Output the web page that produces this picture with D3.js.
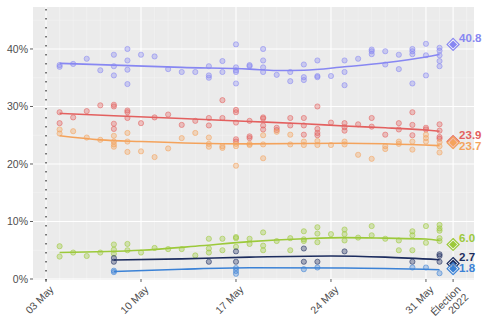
<!DOCTYPE html>
<html><head><meta charset="utf-8">
<script src="https://cdn.jsdelivr.net/npm/d3@7"></script>
<style>body{margin:0;background:#fff}svg{display:block}text{font-family:"Liberation Sans",Arial,sans-serif}</style>
</head><body><svg id="c" width="500" height="334"></svg>
<script>
// Days are counted from 03 May 2022 (day 0). Election: 2 June (day 30).
const parties = ["PC","Liberal","NDP","Green","New Blue","Ontario Party"];
const colors = ["#8787f2","#e3605f","#f4a35c","#9cc93a","#1c2c5e","#3b82d6"];
const tickDays = [0,7,14,21,28,30];
const tickLabels = ["03 May","10 May","17 May","24 May","31 May","Élection\n2022"];
const yTicks = [0,10,20,30,40];
const electionDay = 30;
const results = [40.8,23.9,23.7,6.0,2.7,1.8];

const pcPolls = [[1,36.9],[1,37.2],[2,37.4],[3,38.3],[4,36.3],[5,39.0],[5,37.0],[5,35.4],[6,40.0],[6,38.0],[6,36.4],[6,33.9],[7,39.0],[8,38.7],[9,36.5],[10,36.0],[11,36.0],[12,37.0],[12,35.4],[12,35.0],[13,37.9],[13,36.0],[14,40.8],[14,36.8],[14,36.3],[14,36.0],[14,34.0],[15,37.2],[15,37.0],[16,40.0],[16,38.0],[16,36.8],[16,36.0],[17,35.5],[18,36.0],[18,34.4],[19,37.3],[19,35.1],[19,34.6],[20,38.0],[20,35.3],[20,35.1],[21,35.3],[22,38.0],[22,36.0],[22,33.7],[23,38.3],[24,39.9],[24,39.6],[24,39.1],[25,39.6],[25,37.3],[26,39.0],[26,36.5],[27,40.0],[27,39.6],[27,39.1],[27,34.0],[28,40.9],[28,38.9],[28,35.4],[29,40.2],[29,39.7],[29,38.9],[29,37.9],[29,37.0]];
const libPolls = [[1,29.0],[1,27.1],[2,28.1],[3,29.2],[4,30.2],[5,30.3],[5,30.0],[5,27.0],[5,26.1],[6,29.3],[6,29.0],[6,28.0],[7,27.1],[8,28.1],[9,28.6],[10,26.8],[11,27.5],[12,28.0],[12,26.7],[13,31.1],[13,28.0],[14,29.4],[14,29.0],[14,27.2],[14,24.3],[14,23.9],[15,27.5],[15,24.8],[15,24.5],[16,28.1],[16,27.9],[16,26.7],[16,26.0],[17,26.3],[17,25.9],[18,28.0],[18,26.7],[19,28.0],[19,26.7],[19,25.1],[20,30.0],[20,26.1],[20,25.4],[20,25.0],[21,27.2],[22,27.1],[22,26.4],[22,25.8],[23,26.9],[24,28.0],[24,26.5],[25,25.1],[26,27.1],[26,26.0],[27,29.0],[27,26.8],[27,25.0],[28,26.3],[28,26.0],[29,26.9],[29,25.8],[29,24.7],[29,24.4]];
const ndpPolls = [[1,26.0],[1,25.3],[2,25.7],[3,24.6],[4,24.2],[5,24.9],[5,23.9],[5,23.4],[5,23.0],[6,25.4],[6,23.9],[6,22.1],[7,22.2],[8,21.2],[9,22.7],[10,24.5],[11,25.4],[12,24.6],[12,23.5],[12,23.0],[13,23.1],[13,22.8],[14,23.5],[14,23.1],[14,19.7],[15,23.5],[15,23.3],[16,25.0],[16,23.4],[16,21.0],[17,25.6],[18,25.1],[18,23.4],[19,23.9],[19,23.3],[20,24.0],[20,23.3],[21,23.3],[22,23.9],[22,23.4],[23,21.6],[24,20.9],[25,23.1],[25,22.6],[26,23.9],[26,23.5],[27,23.9],[27,22.5],[28,25.1],[28,24.5],[28,23.9],[29,23.8],[29,23.1],[29,22.0]];
const greenPolls = [[1,5.7],[1,3.9],[2,4.6],[3,4.0],[4,4.6],[5,6.0],[5,5.1],[5,4.4],[6,6.1],[6,5.0],[7,4.6],[8,5.4],[9,5.2],[10,5.2],[11,4.1],[12,7.0],[12,5.3],[12,4.6],[13,7.0],[13,5.0],[14,7.3],[14,7.1],[14,5.6],[15,7.0],[15,6.1],[16,8.1],[16,5.8],[16,5.0],[17,6.6],[18,7.1],[18,5.0],[19,8.3],[19,6.9],[19,6.6],[20,9.0],[20,7.9],[20,6.4],[21,7.8],[22,8.6],[22,7.8],[22,6.7],[23,7.2],[24,9.2],[24,7.6],[25,7.0],[26,6.7],[26,5.0],[27,8.3],[27,7.6],[27,5.0],[28,9.2],[28,6.3],[29,9.4],[29,8.8],[29,8.4],[29,7.1],[29,6.6]];
const newBluePolls = [[5,3.65],[5,3.0],[12,3.0],[14,4.8],[14,3.0],[19,5.3],[19,3.0],[20,3.0],[22,4.8],[27,3.0],[29,4.3],[29,4.0],[29,3.0]];
const ontarioPolls = [[5,1.45],[5,1.2],[14,1.9],[14,1.4],[14,0.9],[19,1.7],[20,2.0],[27,2.0],[28,2.0],[29,1.0]];

const pcTrend = [[1,37.5],[5,37.2],[10,36.8],[15,36.5],[17,36.25],[19,36.3],[22,36.9],[25,37.6],[28,38.6],[29,39.05]];
const libTrend = [[1,28.8],[5,28.4],[10,27.9],[15,27.4],[19,27.0],[22,26.6],[25,26.3],[28,25.9],[29,25.7]];
const ndpTrend = [[1,24.9],[4,24.2],[7,23.9],[11,23.6],[15,23.5],[22,23.6],[29,23.2]];
const greenTrend = [[1,4.6],[7,5.0],[11,5.7],[15,6.5],[19,7.0],[22,7.2],[25,7.1],[28,6.95],[29,6.7]];
const newBlueTrend = [[5,3.3],[10,3.5],[15,3.8],[21,4.0],[25,3.8],[29,3.35]];
const ontarioTrend = [[5,1.3],[10,1.7],[15,1.95],[22,1.9],[29,1.6]];

const polls = [pcPolls,libPolls,ndpPolls,greenPolls,newBluePolls,ontarioPolls];
const trends = [pcTrend,libTrend,ndpTrend,greenTrend,newBlueTrend,ontarioTrend];

const svg = d3.select("#c");
const L=33,R=474,T=7,B=279;
const x = d3.scaleLinear().domain([-0.96,31.54]).range([L,R]);
const y = d3.scaleLinear().domain([0,47.3]).range([B,T]);

svg.append("rect").attr("x",L).attr("y",T).attr("width",R-L).attr("height",B-T+1).attr("fill","#ebebeb");
// minor grid
const g = svg.append("g");
d3.range(0,32).filter(d=>!tickDays.includes(d)).forEach(d=>{
  g.append("line").attr("x1",x(d)).attr("x2",x(d)).attr("y1",T).attr("y2",B+1).attr("stroke","#f4f4f4").attr("stroke-width",0.6);
});
[5,15,25,35,45].forEach(v=>{
  g.append("line").attr("x1",L).attr("x2",R).attr("y1",y(v)).attr("y2",y(v)).attr("stroke","#f4f4f4").attr("stroke-width",0.6);
});
// major grid
tickDays.forEach(d=>{
  g.append("line").attr("x1",x(d)).attr("x2",x(d)).attr("y1",T).attr("y2",B+1).attr("stroke","#fff").attr("stroke-width",1.1);
});
yTicks.forEach(v=>{
  g.append("line").attr("x1",L).attr("x2",R).attr("y1",y(v)).attr("y2",y(v)).attr("stroke","#fff").attr("stroke-width",1.1);
});
// dotted writ line
svg.append("line").attr("x1",x(0)).attr("x2",x(0)).attr("y1",T+2).attr("y2",B+3)
  .attr("stroke","#444").attr("stroke-width",1.4).attr("stroke-dasharray","1.4 7.6");

// axes
yTicks.forEach(v=>{
  svg.append("line").attr("x1",L-3).attr("x2",L).attr("y1",y(v)).attr("y2",y(v)).attr("stroke","#333").attr("stroke-width",0.8);
  svg.append("text").attr("x",L-5).attr("y",y(v)).attr("dy","0.35em").attr("text-anchor","end")
    .attr("font-size",10.5).attr("fill","#4d4d4d").text(v+"%");
});
tickDays.forEach((d,i)=>{
  svg.append("line").attr("x1",x(d)).attr("x2",x(d)).attr("y1",B).attr("y2",B+3).attr("stroke","#333").attr("stroke-width",0.8);
  const t = svg.append("text").attr("transform",`translate(${x(d)+3},${B+6}) rotate(-45)`)
    .attr("text-anchor","end").attr("font-size",10.5).attr("fill","#4d4d4d");
  tickLabels[i].split("\n").forEach((s,j)=>{
    t.append("tspan").attr("x",0).attr("dy", j===0 ? "0.7em" : "1.05em").text(s);
  });
});

// points
polls.forEach((arr,i)=>{
  svg.append("g").selectAll("circle").data(arr).join("circle")
    .attr("cx",d=>x(d[0])).attr("cy",d=>y(d[1])).attr("r",2.6)
    .attr("fill",colors[i]).attr("fill-opacity",0.35)
    .attr("stroke",colors[i]).attr("stroke-opacity",0.55).attr("stroke-width",1);
});
// trend lines
const line = d3.line().x(d=>x(d[0])).y(d=>y(d[1])).curve(d3.curveMonotoneX);
trends.forEach((arr,i)=>{
  svg.append("path").attr("d",line(arr)).attr("fill","none").attr("stroke",colors[i]).attr("stroke-width",1.6);
});
// election diamonds
const dia = r=>`M0,${-r}L${r},0L0,${r}L${-r},0Z`;
results.forEach((v,i)=>{
  const gg = svg.append("g").attr("transform",`translate(${x(electionDay)},${y(v)})`);
  gg.append("path").attr("d",dia(6)).attr("fill","#fff").attr("fill-opacity",0.5).attr("stroke",colors[i]).attr("stroke-width",1.2);
  gg.append("path").attr("d",dia(4)).attr("fill",colors[i]);
});
// labels with simple repel
const order = results.map((v,i)=>i).sort((a,b)=>results[b]-results[a]);
let prev = -Infinity; const ly = [];
order.forEach(i=>{ let yy = y(results[i])-6.5; if(yy<prev+11) yy=prev+11; ly[i]=yy; prev=yy; });
results.forEach((v,i)=>{
  svg.append("text").attr("x",x(electionDay)+6).attr("y",ly[i]).attr("dy","0.35em")
    .attr("font-size",11.5).attr("font-weight","bold").attr("fill",colors[i]).text(d3.format(".1f")(v));
});
</script></body></html>
